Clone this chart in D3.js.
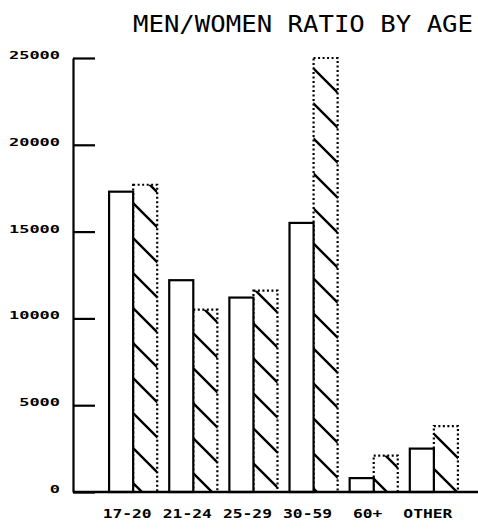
<!DOCTYPE html>
<html>
<head>
<meta charset="utf-8">
<script src="https://cdn.jsdelivr.net/npm/d3@7"></script>
<style>
  body { margin: 0; background: #fff; }
</style>
</head>
<body>
<div id="chart"></div>
<script>
// data
const ageGroups = ["17-20", "21-24", "25-29", "30-59", "60+", "OTHER"];
const menValues = [17300, 12200, 11200, 15500, 800, 2500];
const womenValues = [17700, 10500, 11600, 25000, 2100, 3800];
const yTicks = [0, 5000, 10000, 15000, 20000, 25000];
const chartTitle = "MEN/WOMEN RATIO BY AGE";

const width = 478, height = 532;
const margin = {top: 58, right: 0, bottom: 40, left: 73};

const rows = ageGroups.map((g, i) => ({group: g, men: menValues[i], women: womenValues[i]}));

const svg = d3.select("#chart").append("svg")
	.attr("width", width)
	.attr("height", height);

// hatch for the women bars
const defs = svg.append("defs");
const pat = defs.append("pattern")
	.attr("id", "hatch")
	.attr("patternUnits", "userSpaceOnUse")
	.attr("width", 35)
	.attr("height", 35);
pat.append("rect").attr("width", 35).attr("height", 35).attr("fill", "#fff");
pat.append("path")
	.attr("d", "M0,0L35,35M-3,32L3,38M32,-3L38,3")
	.attr("stroke", "#000")
	.attr("stroke-width", 2.4);

const y = d3.scaleLinear()
	.domain([0, 25000])
	.range([height - margin.bottom, margin.top]);

const x = d3.scaleBand()
	.domain(ageGroups)
	.range([margin.left, margin.left + 421])
	.paddingInner(0.2)
	.paddingOuter(0.6);

const sub = d3.scaleBand()
	.domain(["men", "women"])
	.range([0, x.bandwidth()]);

// title
svg.append("text")
	.attr("x", 133)
	.attr("y", 32)
	.attr("textLength", 340)
	.attr("lengthAdjust", "spacingAndGlyphs")
	.style("font-family", "'DejaVu Sans Mono', monospace")
	.style("font-size", "23px")
	.text(chartTitle);

// women bars first so the solid men outline sits on the shared edge
svg.append("g").selectAll("rect")
	.data(rows)
	.enter()
	.append("rect")
	.attr("x", d => x(d.group) + sub("women"))
	.attr("y", d => y(d.women))
	.attr("width", sub.bandwidth())
	.attr("height", d => y(0) - y(d.women))
	.attr("fill", "url(#hatch)")
	.attr("stroke", "#000")
	.attr("stroke-width", 2.2)
	.attr("stroke-dasharray", "2,2.5");

svg.append("g").selectAll("rect")
	.data(rows)
	.enter()
	.append("rect")
	.attr("x", d => x(d.group) + sub("men"))
	.attr("y", d => y(d.men))
	.attr("width", sub.bandwidth())
	.attr("height", d => y(0) - y(d.men))
	.attr("fill", "#fff")
	.attr("stroke", "#000")
	.attr("stroke-width", 2.2);

// y axis, ticks pointing inward
const yAxis = svg.append("g")
	.attr("transform", "translate(" + margin.left + ",0)")
	.call(d3.axisLeft(y).tickValues(yTicks).tickFormat(d3.format("d"))
		.tickSize(-22).tickSizeOuter(0).tickPadding(13));
yAxis.selectAll("path, line").attr("stroke", "#000").attr("stroke-width", 2.2);
yAxis.selectAll("text")
	.attr("dy", "0.05em")
	.attr("textLength", d => String(d).length * 10.2)
	.attr("lengthAdjust", "spacingAndGlyphs")
	.style("font-family", "'DejaVu Sans Mono', monospace")
	.style("font-weight", "bold")
	.style("font-size", "11px")
	.attr("fill", "#000");

// x axis
const xAxis = svg.append("g")
	.attr("transform", "translate(0," + y(0) + ")")
	.call(d3.axisBottom(x).tickSize(0).tickPadding(17));
xAxis.select(".domain").remove();
xAxis.selectAll("text")
	.attr("dx", -6)
	.attr("textLength", d => d.length * 9.8)
	.attr("lengthAdjust", "spacingAndGlyphs")
	.style("font-family", "'DejaVu Sans Mono', monospace")
	.style("font-weight", "bold")
	.style("font-size", "12px")
	.attr("fill", "#000");

svg.append("line")
	.attr("x1", margin.left)
	.attr("x2", width)
	.attr("y1", y(0))
	.attr("y2", y(0))
	.attr("stroke", "#000")
	.attr("stroke-width", 2.5);
</script>
</body>
</html>
